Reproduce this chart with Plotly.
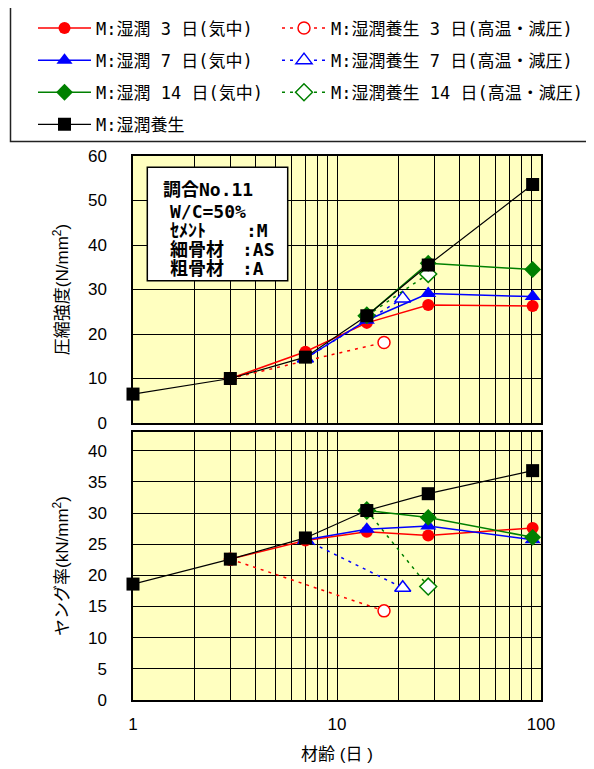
import plotly.graph_objects as go

# ---------------- data ----------------
days_wet = [1, 3, 7, 14, 28, 91]
fc_wet = [6.5, 10.0, 14.8, 24.1, 35.5, 53.6]
ym_wet = [18.6, 22.6, 26.0, 30.4, 33.1, 36.8]

days_air3 = [3, 7, 14, 28, 91]
fc_air3 = [10.0, 16.0, 22.5, 26.5, 26.3]
ym_air3 = [22.6, 25.6, 27.0, 26.4, 27.6]

days_air7 = [7, 14, 28, 91]
fc_air7 = [14.5, 23.1, 29.1, 28.4]
ym_air7 = [25.7, 27.4, 27.9, 25.7]

days_air14 = [14, 28, 91]
fc_air14 = [24.1, 35.9, 34.5]
ym_air14 = [30.4, 29.3, 26.1]

days_ht3 = [3, 17]
fc_ht3 = [10.0, 18.1]
ym_ht3 = [22.6, 14.3]

days_ht7 = [7, 21]
fc_ht7 = [14.5, 28.0]
ym_ht7 = [25.7, 18.0]

days_ht14 = [14, 28]
fc_ht14 = [24.1, 33.5]
ym_ht14 = [30.4, 18.2]

x_major = [1, 10, 100]
x_major_text = ["1", "10", "100"]
x_minor = [2, 3, 4, 5, 6, 7, 8, 9, 20, 30, 40, 50, 60, 70, 80, 90]

names = {
    "air3": "M:湿潤 3 日(気中)",
    "air7": "M:湿潤 7 日(気中)",
    "air14": "M:湿潤 14 日(気中)",
    "wet": "M:湿潤養生",
    "ht3": "M:湿潤養生 3 日(高温・減圧)",
    "ht7": "M:湿潤養生 7 日(高温・減圧)",
    "ht14": "M:湿潤養生 14 日(高温・減圧)",
}

info_labels = ["調合No.11", "W/C=50%", "ｾﾒﾝﾄ", "細骨材", "粗骨材"]
info_values = [":M", ":AS", ":A"]

# ---------------- styling ----------------
RED, BLUE, GREEN, BLACK = "#FF0000", "#0000FF", "#008000", "#000000"
MONO_CJK = "DejaVu Sans Mono, Noto Sans CJK JP"
LAT_CJK = "Liberation Sans, Noto Sans CJK JP"

series = [
    # key, x, top, bottom, color, symbol, open, dashed, legend, rank
    ("ht3", days_ht3, fc_ht3, ym_ht3, RED, "circle", True, True, "legend2", 1),
    ("ht7", days_ht7, fc_ht7, ym_ht7, BLUE, "triangle-up", True, True, "legend2", 2),
    ("ht14", days_ht14, fc_ht14, ym_ht14, GREEN, "diamond", True, True, "legend2", 3),
    ("air3", days_air3, fc_air3, ym_air3, RED, "circle", False, False, "legend", 1),
    ("air7", days_air7, fc_air7, ym_air7, BLUE, "triangle-up", False, False, "legend", 2),
    ("air14", days_air14, fc_air14, ym_air14, GREEN, "diamond", False, False, "legend", 3),
    ("wet", days_wet, fc_wet, ym_wet, BLACK, "square", False, False, "legend", 4),
]
sizes = {"circle": 12, "triangle-up": 14, "diamond": 13, "square": 13}

fig = go.Figure()
for key, xs, top, bot, col, sym, is_open, dashed, leg, rank in series:
    size = sizes[sym]
    if is_open:
        marker = dict(symbol=sym, size=size, color="white", line=dict(color=col, width=1.5))
    else:
        marker = dict(symbol=sym, size=size, color=col, line=dict(color=col, width=0))
    line = dict(color=col, width=1.2 if col == BLACK else 1.5,
                dash="3px,5px" if dashed else "solid")
    for yv, xa, ya, show in ((top, "x", "y", True), (bot, "x2", "y2", False)):
        fig.add_trace(go.Scatter(
            x=xs, y=yv, xaxis=xa, yaxis=ya, mode="lines+markers",
            name=names[key], legendgroup=key, legend=leg, legendrank=rank,
            showlegend=show, marker=marker, line=line, cliponaxis=False,
        ))

# page offset of the figure inside the browser page (body margin)
OFF = 8
W, H = 594, 769
# target plot area in screen pixels: x 133..541, y 156..700
ML, MT = 133 - OFF, 156 - OFF
MR, MB = W - (541 - OFF), H - (700 - OFF)
PW, PH = 408, 544


def px_x(p):  # screen pixel -> paper x
    return (p - 133) / PW


def px_y(p):  # screen pixel -> paper y
    return (700 - p) / PH


axis_common = dict(
    showgrid=True, gridcolor="black", gridwidth=1,
    showline=True, linecolor="black", linewidth=1.5, mirror=True,
    zeroline=False,
    tickfont=dict(family="Liberation Sans", size=17, color="black"),
)
minor_grid = dict(tickmode="array", tickvals=x_minor, showgrid=True,
                  gridcolor="black", gridwidth=1, ticks="")
title_font = dict(family=LAT_CJK, size=17, color="black")

fig.update_layout(
    width=W, height=H,
    margin=dict(l=ML, r=MR, t=MT, b=MB, autoexpand=False),
    paper_bgcolor="white", plot_bgcolor="#FFFFC0",
    showlegend=True,
    xaxis=dict(type="log", range=[0, 2], tickvals=x_major, showticklabels=False,
               ticks="", anchor="y", minor=minor_grid, **axis_common),
    xaxis2=dict(type="log", range=[0, 2], tickvals=x_major, ticktext=x_major_text,
                anchor="y2", ticks="outside", ticklen=8, tickcolor="rgba(0,0,0,0)",
                minor=minor_grid,
                title=dict(text="材齢 (日 )", font=title_font, standoff=15),
                **axis_common),
    yaxis=dict(domain=[px_y(423), 1], range=[0, 60], dtick=10, anchor="x",
               ticks="outside", ticklen=21, tickcolor="rgba(0,0,0,0)",
               title=dict(text="圧縮強度(N/mm<sup>2</sup>)", font=title_font, standoff=15),
               **axis_common),
    yaxis2=dict(domain=[0, px_y(432)], range=[0, 43], dtick=5, anchor="x2",
                ticks="outside", ticklen=21, tickcolor="rgba(0,0,0,0)",
                title=dict(text="ヤング率(kN/mm<sup>2</sup>)", font=title_font, standoff=15),
                **axis_common),
    legend=dict(x=px_x(33), y=px_y(10.5), xanchor="left", yanchor="top",
                bgcolor="rgba(0,0,0,0)", borderwidth=0,
                itemwidth=53, tracegroupgap=7, traceorder="grouped",
                font=dict(family=MONO_CJK, size=17, color="black")),
    legend2=dict(x=px_x(277), y=px_y(10.5), xanchor="left", yanchor="top",
                 bgcolor="rgba(0,0,0,0)", borderwidth=0,
                 itemwidth=44, tracegroupgap=7, traceorder="grouped",
                 font=dict(family=MONO_CJK, size=17, color="black")),
)

# legend frame
fig.add_shape(type="rect", xref="paper", yref="paper",
              x0=px_x(10.5), x1=px_x(591.5), y0=px_y(141.5), y1=px_y(4.7),
              line=dict(color="#222222", width=1.5), fillcolor="rgba(0,0,0,0)", layer="above")

# info box
fig.add_shape(type="rect", xref="paper", yref="paper",
              x0=px_x(147.3), x1=px_x(287.7), y0=px_y(280.7), y1=px_y(167.3),
              line=dict(color="black", width=1.5), fillcolor="white", layer="above")

label_pos = [(160.5, 189.3), (167.5, 211.7), (167.5, 230.7), (167.5, 249.3), (167.5, 268.3)]
value_pos = [(244, 230.7), (240, 249.3), (240, 268.3)]
for txt, (xp, yp) in list(zip(info_labels, label_pos)) + list(zip(info_values, value_pos)):
    fig.add_annotation(text=txt, xref="paper", yref="paper", x=px_x(xp), y=px_y(yp),
                       xanchor="left", yanchor="middle", showarrow=False,
                       font=dict(family=MONO_CJK, size=18, color="black", weight="bold"))

fig.write_html("out.html")
